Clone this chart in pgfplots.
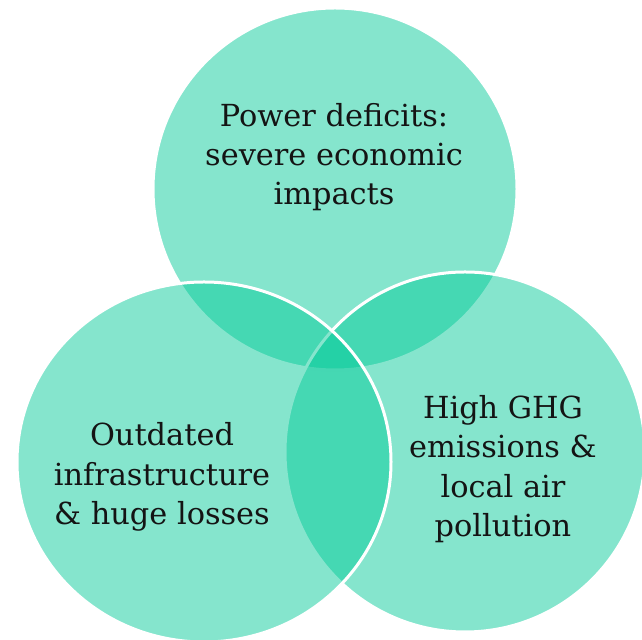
\documentclass[border=0pt]{standalone}
\usepackage{pgfplots}
\pgfplotsset{compat=1.18}
\usepackage{fontspec}
\setmainfont{DejaVu Serif}
\definecolor{venn}{RGB}{0,201,151}
\definecolor{txt}{RGB}{20,20,20}
\begin{document}
\begin{tikzpicture}
\begin{axis}[
  width=642bp, height=640bp, scale only axis,
  xmin=0, xmax=642, ymin=0, ymax=640,
  hide axis, clip=true,
]
% circles: top, right, left (drawing order as in the reference)
\path[fill=venn, fill opacity=0.48, draw=white, line width=3bp]
  (axis cs:335,451) ellipse [x radius=182, y radius=181];
\path[fill=venn, fill opacity=0.48, draw=white, line width=3bp]
  (axis cs:465,188) ellipse [x radius=180, y radius=180];
\path[fill=venn, fill opacity=0.48, draw=white, line width=3bp]
  (axis cs:204,178) ellipse [x radius=187, y radius=180];
\node[txt, align=center, font=\fontsize{30.5}{39.5}\selectfont] at (axis cs:334,483)
  {Power deficits:\\severe economic\\impacts};
\node[txt, align=center, font=\fontsize{30.5}{39.5}\selectfont] at (axis cs:162,163)
  {Outdated\\infrastructure\\\& huge losses};
\node[txt, align=center, font=\fontsize{30.5}{39.5}\selectfont] at (axis cs:503,171)
  {High GHG\\emissions \&\\local air\\pollution};
\end{axis}
\pgfresetboundingbox
\path (current axis.south west) rectangle (current axis.north east);
\end{tikzpicture}
\end{document}
